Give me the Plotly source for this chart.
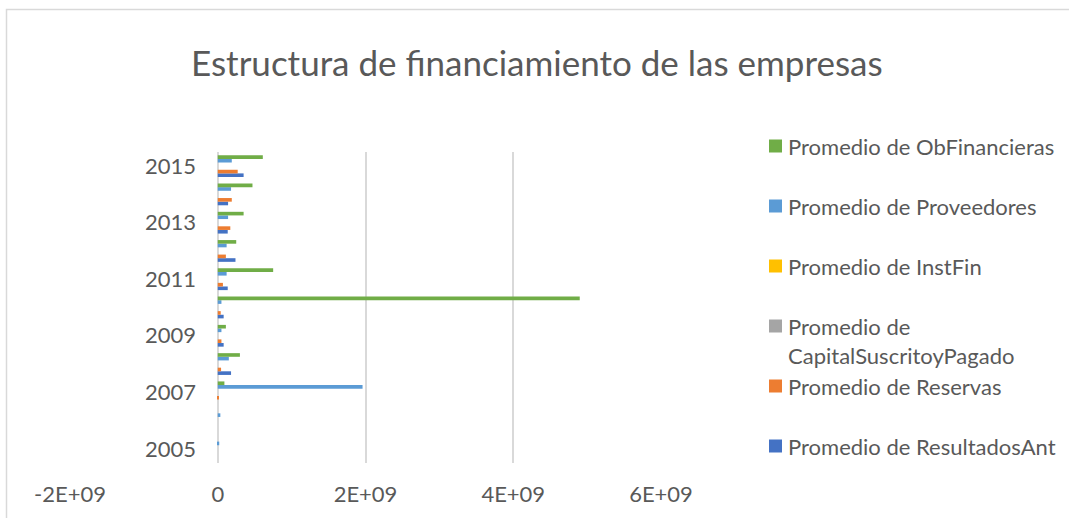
import plotly.graph_objects as go

years = [2005, 2006, 2007, 2008, 2009, 2010, 2011, 2012, 2013, 2014, 2015]

# values in units of 1E+09 (converted below)
resultados_ant = [0.0, 0.0, 0.0, 0.18, 0.08, 0.08, 0.135, 0.24, 0.135, 0.14, 0.35]
reservas = [0.0, 0.0, 0.015, 0.045, 0.05, 0.04, 0.07, 0.11, 0.17, 0.19, 0.27]
capital = [0.0] * 11
instfin = [0.0] * 11
proveedores = [0.02, 0.035, 1.96, 0.15, 0.05, 0.05, 0.12, 0.12, 0.14, 0.18, 0.19]
ob_financieras = [0.0, 0.0, 0.09, 0.30, 0.11, 4.90, 0.75, 0.25, 0.35, 0.47, 0.61]

series_names = [
    "Promedio de ResultadosAnt",
    "Promedio de Reservas",
    "Promedio de CapitalSuscritoyPagado",
    "Promedio de InstFin",
    "Promedio de Proveedores",
    "Promedio de ObFinancieras",
]
series_values = [resultados_ant, reservas, capital, instfin, proveedores, ob_financieras]
series_colors = ["#4472C4", "#ED7D31", "#A5A5A5", "#FFC000", "#5B9BD5", "#70AD47"]

x_tickvals = [-2e9, 0, 2e9, 4e9, 6e9]
x_ticktext = ["-2E+09", "0", "2E+09", "4E+09", "6E+09"]
y_tickvals = [2005, 2007, 2009, 2011, 2013, 2015]

FONT = "Lato"
GREY = "#595959"

fig = go.Figure()
for name, vals, col in zip(series_names, series_values, series_colors):
    fig.add_trace(go.Bar(
        y=years, x=[v * 1e9 for v in vals], orientation="h", name=name,
        marker=dict(color=col, line=dict(width=0)), showlegend=False,
    ))

FW, FH = 1069, 518
L, R, T, B = 70, 661, 152, 463  # pixel coordinates of plot area
W, H = R - L, B - T

def px(x):
    return (x - L) / W

def py(y):
    return (B - y) / H

legend_items = [
    ("Promedio de ObFinancieras", "#70AD47", 146, None),
    ("Promedio de Proveedores", "#5B9BD5", 206, None),
    ("Promedio de InstFin", "#FFC000", 266, None),
    ("Promedio de", "#A5A5A5", 326, "CapitalSuscritoyPagado"),
    ("Promedio de Reservas", "#ED7D31", 386, None),
    ("Promedio de ResultadosAnt", "#4472C4", 446, None),
]
shapes = []
annotations = []
for text, col, yc, second in legend_items:
    shapes.append(dict(type="rect", xref="paper", yref="paper",
                       x0=px(769), x1=px(782), y0=py(yc + 6.5), y1=py(yc - 6.5),
                       fillcolor=col, line=dict(width=0)))
    annotations.append(dict(xref="paper", yref="paper", x=px(786), y=py(yc),
                            xanchor="left", yanchor="middle", text=text, showarrow=False,
                            font=dict(family=FONT, size=22, color=GREY)))
    if second:
        annotations.append(dict(xref="paper", yref="paper", x=px(786), y=py(yc + 29),
                                xanchor="left", yanchor="middle", text=second, showarrow=False,
                                font=dict(family=FONT, size=22, color=GREY)))

# chart border
shapes.append(dict(type="rect", xref="paper", yref="paper",
                   x0=px(6.5), x1=px(1080), y0=py(530), y1=py(9.5),
                   line=dict(color="#D9D9D9", width=1.5), fillcolor="rgba(0,0,0,0)", layer="below"))

annotations.append(dict(xref="paper", yref="paper", x=px(537), y=py(62),
                        xanchor="center", yanchor="middle",
                        text="Estructura de financiamiento de las empresas", showarrow=False,
                        font=dict(family=FONT, size=35, color=GREY)))

fig.update_layout(
    width=FW, height=FH,
    margin=dict(l=L, r=FW - R, t=T, b=FH - B, autoexpand=False),
    paper_bgcolor="white", plot_bgcolor="white",
    barmode="group", bargap=0.23, bargroupgap=0,
    shapes=shapes, annotations=annotations,
    font=dict(family=FONT, color=GREY),
    showlegend=False,
)
fig.update_xaxes(range=[-2e9, 6e9], tickvals=x_tickvals, ticktext=x_ticktext,
                 showgrid=True, gridcolor="#D9D9D9", gridwidth=1.5, zeroline=False,
                 showline=False, ticks="", tickfont=dict(family=FONT, size=22, color=GREY),
                 ticklabelstandoff=16, automargin=False)
fig.update_yaxes(range=[2004.5, 2015.5], tickvals=y_tickvals, ticktext=[str(v) for v in y_tickvals],
                 showgrid=False, zeroline=False, showline=False, ticks="",
                 anchor="free", position=px(218),
                 tickfont=dict(family=FONT, size=22, color=GREY), ticklabelstandoff=22,
                 automargin=False)

fig.write_html("out.html", config={"displayModeBar": False},
               post_script="document.body.style.margin='0';")
